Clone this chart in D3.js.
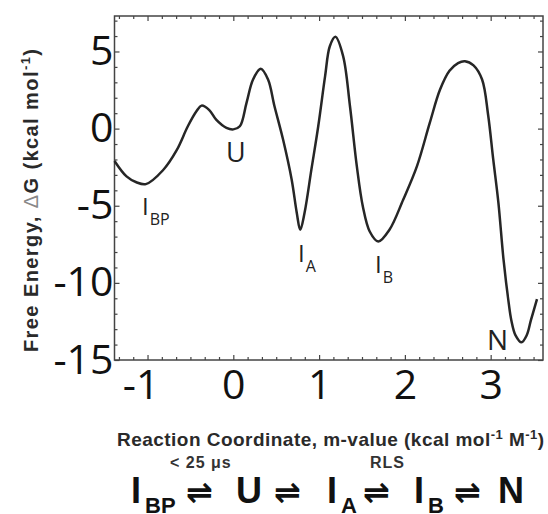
<!DOCTYPE html>
<html>
<head>
<meta charset="utf-8">
<script src="https://cdn.jsdelivr.net/npm/d3@7/dist/d3.min.js"></script>
<style>
html, body { margin: 0; padding: 0; background: #fff; }
svg { display: block; }
</style>
</head>
<body>
<div id="chart"></div>
<script>
// reaction coordinate (m-value) and free energy
var coordinate = [-1.385, -1.245, -1.13, -1.02, -0.82, -0.66, -0.53, -0.43, -0.37, -0.28, -0.20, -0.08, 0.00,
    0.076, 0.154, 0.23, 0.32, 0.405, 0.48, 0.58, 0.68, 0.74, 0.78, 0.83, 0.91, 0.99, 1.07, 1.125, 1.19,
    1.28, 1.36, 1.44, 1.51, 1.59, 1.69, 1.82, 1.98, 2.14, 2.29, 2.41, 2.52, 2.62, 2.70, 2.80, 2.90,
    2.97, 3.03, 3.09, 3.15, 3.21, 3.24, 3.29, 3.36, 3.42, 3.47, 3.54];
var freeEnergy = [-2.1, -3.1, -3.48, -3.6, -2.7, -1.4, 0.15, 1.12, 1.49, 1.2, 0.58, 0.05, -0.05,
    0.15, 1.67, 3.18, 3.88, 3.18, 1.45, -0.71, -3.3, -5.47, -6.56, -5.47, -2.66, 0.15, 3.4, 5.34, 5.95,
    4.7, 1.45, -2.45, -5.05, -6.67, -7.32, -6.56, -4.61, -2.45, 0.37, 2.53, 3.75, 4.25, 4.37, 4.1, 3.18,
    0.9, -2.0, -4.8, -8.5, -11.3, -12.4, -13.4, -13.85, -13.4, -12.4, -11.06];

var xTickValues = [-1, 0, 1, 2, 3];
var yTickValues = [5, 0, -5, -10, -15];
var stateNames = ["I", "U", "I", "I", "N"];
var stateSubs = ["BP", "", "A", "B", ""];
var schemeNotes = ["< 25 μs", "RLS"];

var w = 548,
    h = 514;

var svg = d3.select("#chart").append("svg")
    .attr("width", w)
    .attr("height", h)
    .attr("viewBox", "0 0 " + w + " " + h);

var frame = {left: 114.5, right: 543, top: 16, bottom: 360};

var x = d3.scaleLinear().domain([-1.385, 3.61]).range([frame.left, frame.right]);
var y = d3.scaleLinear().domain([-15, 7.3]).range([frame.bottom, frame.top]);

var xMinor = d3.range(-8, 22).map(function (i) { return i / 6; })
    .filter(function (v) { return v > -1.385 && v < 3.61 && Math.abs(v - Math.round(v)) > 0.01; });
var yMinor = d3.range(-14, 8).filter(function (v) { return v % 5 !== 0; });

function clean(g) {
    g.select(".domain").remove();
    g.selectAll(".tick line").attr("stroke", "#444").attr("stroke-width", 1.2);
}

function plain(d) { return String(d); }

// major ticks with labels
svg.append("g")
    .attr("transform", "translate(0," + frame.bottom + ")")
    .call(d3.axisBottom(x).tickValues(xTickValues).tickSize(-5).tickPadding(10).tickFormat(plain))
    .call(clean)
    .selectAll("text")
    .attr("font-family", "'Open Sans', sans-serif")
    .attr("font-size", 41)
    .attr("fill", "#111")
    .attr("dx", function (d) { return d < 0 ? -7 : 0; });

svg.append("g")
    .attr("transform", "translate(" + frame.left + ",0)")
    .call(d3.axisLeft(y).tickValues(yTickValues).tickSize(-5).tickPadding(1).tickFormat(plain))
    .call(clean)
    .selectAll("text")
    .attr("font-family", "'Open Sans', sans-serif")
    .attr("font-size", 41)
    .attr("fill", "#111");

// mirrored ticks on top and right
svg.append("g").attr("transform", "translate(0," + frame.top + ")")
    .call(d3.axisTop(x).tickValues(xTickValues).tickSize(-5).tickFormat(""))
    .call(clean);
svg.append("g").attr("transform", "translate(" + frame.right + ",0)")
    .call(d3.axisRight(y).tickValues(yTickValues).tickSize(-5).tickFormat(""))
    .call(clean);

// minor ticks
[[d3.axisBottom(x), frame.bottom, xMinor, true], [d3.axisTop(x), frame.top, xMinor, true],
 [d3.axisLeft(y), frame.left, yMinor, false], [d3.axisRight(y), frame.right, yMinor, false]].forEach(function (a) {
    svg.append("g")
        .attr("transform", a[3] ? "translate(0," + a[1] + ")" : "translate(" + a[1] + ",0)")
        .call(a[0].tickValues(a[2]).tickSize(-3).tickFormat(""))
        .call(clean);
});

svg.append("rect")
    .attr("x", frame.left)
    .attr("y", frame.top)
    .attr("width", frame.right - frame.left)
    .attr("height", frame.bottom - frame.top)
    .attr("fill", "none")
    .attr("stroke", "#444")
    .attr("stroke-width", 1.5);

var line = d3.line()
    .x(function (d, i) { return x(coordinate[i]); })
    .y(function (d) { return y(d); })
    .curve(d3.curveCatmullRom.alpha(0.5));

svg.append("path")
    .datum(freeEnergy)
    .attr("d", line)
    .attr("fill", "none")
    .attr("stroke", "#262626")
    .attr("stroke-width", 2.5);

// state labels on the curve
var labelPos = [[142, 215, 24], [226, 162, 27], [298, 262, 24], [375, 273, 24], [487, 350, 28]];
stateNames.forEach(function (n, i) {
    var p = labelPos[i];
    var t = svg.append("text")
        .attr("x", p[0])
        .attr("y", p[1])
        .attr("font-family", "'Open Sans', sans-serif")
        .attr("font-size", p[2])
        .attr("fill", "#222")
        .text(n);
    if (stateSubs[i]) {
        t.append("tspan")
            .attr("dy", 10)
            .attr("dx", 1)
            .attr("font-size", 16)
            .text(stateSubs[i]);
    }
});

// axis titles
var xt = svg.append("text")
    .attr("x", 117)
    .attr("y", 446)
    .attr("font-family", "'Liberation Sans', Arial, sans-serif")
    .attr("font-weight", "bold")
    .attr("font-size", 19)
    .attr("fill", "#2a2a2a")
    .attr("textLength", 427)
    .attr("lengthAdjust", "spacing");
xt.append("tspan").text("Reaction Coordinate, m-value (kcal mol");
xt.append("tspan").attr("dy", -7).attr("font-size", 13).text("-1");
xt.append("tspan").attr("dy", 7).text(" M");
xt.append("tspan").attr("dy", -7).attr("font-size", 13).text("-1");
xt.append("tspan").attr("dy", 7).text(")");

var yt = svg.append("text")
    .attr("transform", "translate(38,352) rotate(-90)")
    .attr("x", 0)
    .attr("y", 0)
    .attr("font-family", "'Liberation Sans', Arial, sans-serif")
    .attr("font-weight", "bold")
    .attr("font-size", 20)
    .attr("fill", "#2a2a2a")
    .attr("textLength", 303)
    .attr("lengthAdjust", "spacing");
yt.append("tspan").text("Free Energy, ");
yt.append("tspan").attr("font-weight", "normal").attr("fill", "#888").text("Δ");
yt.append("tspan").text("G (kcal mol");
yt.append("tspan").attr("dy", -8).attr("font-size", 13).text("-1");
yt.append("tspan").attr("dy", 8).text(")");

// folding scheme
var scheme = [["I", "BP", 131], ["⇌", "", 186], ["U", "", 236], ["⇌", "", 274], ["I", "A", 327],
    ["⇌", "", 363], ["I", "B", 414], ["⇌", "", 454], ["N", "", 498]];
scheme.forEach(function (s) {
    var t = svg.append("text")
        .attr("x", s[2])
        .attr("y", 503)
        .attr("font-family", s[0] === "⇌" ? "'DejaVu Sans', sans-serif" : "'Liberation Sans', Arial, sans-serif")
        .attr("font-weight", "bold")
        .attr("font-size", s[0] === "⇌" ? 32 : 36)
        .attr("fill", "#111")
        .text(s[0]);
    if (s[1]) {
        t.append("tspan").attr("dy", 10).attr("dx", 4).attr("font-size", 22).text(s[1]);
    }
});

[[schemeNotes[0], 170], [schemeNotes[1], 370]].forEach(function (n) {
    svg.append("text")
        .attr("x", n[1]).attr("y", 468)
        .attr("font-family", "'Liberation Sans', Arial, sans-serif")
        .attr("font-weight", "bold").attr("font-size", 16).attr("fill", "#333")
        .attr("letter-spacing", 1)
        .text(n[0]);
});
</script>
</body>
</html>
